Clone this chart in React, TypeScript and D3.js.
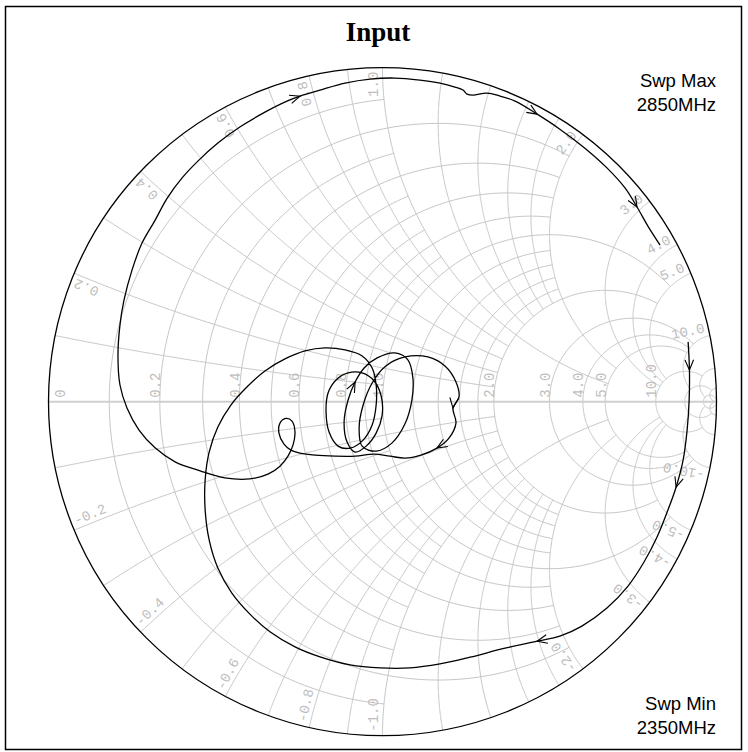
import React from 'react';
import * as d3 from 'd3';

const W = 748;
const H = 752;
const CX = 382.5;
const CY = 401.7;
const RAD = 334;

// grid: resistance circles and the reactance where each one stops
const rValues = [0.1, 0.2, 0.3, 0.4, 0.5, 0.6, 0.7, 0.8, 0.9, 1, 1.2, 1.4, 1.6, 1.8, 2, 3, 4, 5, 10, 20, 50];
const rStops = [1, 2, 1, 2, 1, 2, 1, 2, 1, 5, 2, 2, 2, 2, 5, 10, 10, 10, 20, 50, Infinity];
// reactance arcs and the resistance where each one stops
const xValues = [0.1, 0.2, 0.3, 0.4, 0.5, 0.6, 0.7, 0.8, 0.9, 1, 1.2, 1.4, 1.6, 1.8, 2, 3, 4, 5, 10, 20, 50];
const xStops = [1, 2, 1, 2, 1, 2, 1, 2, 1, 5, 2, 2, 2, 2, 5, 10, 10, 10, 20, 50, Infinity];

const axisValues = [0, 0.2, 0.4, 0.6, 0.8, 1, 2, 3, 4, 5, 10];
const axisLabels = ['0', '0.2', '0.4', '0.6', '0.8', '1.0', '2.0', '3.0', '4.0', '5.0', '10.0'];
const rimValues = [0.2, 0.4, 0.6, 0.8, 1, 2, 3, 4, 5, 10];
const rimLabels = ['0.2', '0.4', '0.6', '0.8', '1.0', '2.0', '3.0', '4.0', '5.0', '10.0'];

const traceRe = [
  0.915, 0.919, 0.918, 0.912, 0.900, 0.879, 0.852, 0.822, 0.783, 0.735, 0.672, 0.597, 0.531, 0.463,
  0.367, 0.262, 0.172, 0.082, -0.007, -0.097, -0.187, -0.262, -0.337, -0.397, -0.451, -0.493, -0.519,
  -0.531, -0.531, -0.519, -0.493, -0.454, -0.406, -0.352, -0.292, -0.232, -0.172, -0.112, -0.061,
  -0.031, -0.019, -0.019, -0.031, -0.058, -0.097,
  -0.133, -0.160, -0.169, -0.163, -0.139, -0.103, -0.061, -0.025, -0.004, -0.001, -0.019, -0.049, -0.082,
  -0.106, -0.115, -0.103, -0.082, -0.055, -0.016, 0.037, 0.076, 0.091, 0.088, 0.067, 0.028, -0.019, -0.061,
  -0.070, -0.058, -0.031, 0.010, 0.067, 0.136, 0.187, 0.220, 0.229, 0.211, 0.220, 0.199, 0.163, 0.115,
  0.067, 0.022, -0.025, -0.082, -0.142, -0.202, -0.247,
  -0.274, -0.295, -0.310, -0.307, -0.289, -0.271, -0.262, -0.268, -0.283, -0.307, -0.343, -0.397,
  -0.472, -0.546, -0.621, -0.681, -0.729, -0.765, -0.786, -0.792, -0.786, -0.774, -0.750, -0.720,
  -0.681, -0.645, -0.600, -0.552, -0.492, -0.426, -0.352, -0.286, -0.247, -0.187, -0.112, -0.037,
  0.037, 0.112, 0.172, 0.217, 0.241, 0.253, 0.271, 0.313, 0.352, 0.397, 0.463, 0.531, 0.606, 0.672,
  0.726, 0.762, 0.795, 0.831,
];
const traceIm = [
  0.179, 0.095, 0.002, -0.085, -0.175, -0.256, -0.331, -0.405, -0.480, -0.552, -0.618, -0.672, -0.702,
  -0.717, -0.738, -0.765, -0.785, -0.797, -0.797, -0.788, -0.764, -0.734, -0.689, -0.636, -0.573,
  -0.498, -0.414, -0.324, -0.234, -0.151, -0.076, -0.010, 0.044, 0.092, 0.128, 0.152, 0.161, 0.155,
  0.137, 0.101, 0.050, -0.010, -0.070, -0.115, -0.139,
  -0.133, -0.091, -0.031, 0.026, 0.065, 0.086, 0.086, 0.062, 0.017, -0.040, -0.094, -0.133, -0.151,
  -0.121, -0.061, 0.005, 0.059, 0.101, 0.131, 0.146, 0.125, 0.071, 0.005, -0.067, -0.124, -0.148, -0.133,
  -0.079, -0.010, 0.056, 0.107, 0.134, 0.134, 0.107, 0.059, 0.014, -0.019, -0.064, -0.109, -0.139, -0.160,
  -0.169, -0.163, -0.157, -0.163, -0.163, -0.160, -0.154,
  -0.145, -0.127, -0.094, -0.064, -0.050, -0.058, -0.091, -0.130, -0.163, -0.193, -0.217, -0.231,
  -0.228, -0.207, -0.180, -0.138, -0.085, -0.019, 0.050, 0.140, 0.230, 0.304, 0.394, 0.475, 0.543,
  0.609, 0.670, 0.721, 0.775, 0.823, 0.867, 0.900, 0.915, 0.933, 0.954, 0.966, 0.969, 0.963, 0.954,
  0.942, 0.933, 0.921, 0.918, 0.924, 0.915, 0.900, 0.861, 0.816, 0.759, 0.700, 0.640, 0.583, 0.525,
  0.469,
];
// direction markers, as indices into the sweep
const arrowIdx = [1, 5, 13, 61, 81, 84, 125, 139, 144];

const gridColor = '#c6c6c6';
const labelColor = '#bdbdbd';

function gamma(r: number, x: number): [number, number] {
  const d = (r + 1) * (r + 1) + x * x;
  return [(r * r + x * x - 1) / d, (2 * x) / d];
}

function rCircle(r: number, xMax: number): [number, number][] {
  const c = r / (r + 1);
  const rho = 1 / (r + 1);
  let t0 = 0;
  if (isFinite(xMax)) {
    const g = gamma(r, xMax);
    t0 = Math.atan2(g[1], g[0] - c);
  }
  return d3.range(0, 241).map((i) => {
    const t = t0 + ((2 * Math.PI - 2 * t0) * i) / 240;
    return [c + rho * Math.cos(t), rho * Math.sin(t)];
  });
}

function xArc(x: number, rMax: number): [number, number][] {
  const s = Math.sign(x);
  const ax = Math.abs(x);
  const rho = 1 / ax;
  const norm = (a: number) => (a < 0 ? a + 2 * Math.PI : a);
  const g0 = gamma(0, ax);
  const a0 = norm(Math.atan2(g0[1] - rho, g0[0] - 1));
  let a1 = 1.5 * Math.PI;
  if (isFinite(rMax)) {
    const g = gamma(rMax, ax);
    a1 = norm(Math.atan2(g[1] - rho, g[0] - 1));
  }
  return d3.range(0, 241).map((i) => {
    const t = a0 + ((a1 - a0) * i) / 240;
    return [1 + rho * Math.cos(t), s * (rho + rho * Math.sin(t))];
  });
}

export default function App() {
  const xs = d3.scaleLinear().domain([-1, 1]).range([CX - RAD, CX + RAD]);
  const ys = d3.scaleLinear().domain([-1, 1]).range([CY + RAD, CY - RAD]);
  const line = d3
    .line<[number, number]>()
    .x((d) => xs(d[0]))
    .y((d) => ys(d[1]));

  const gridPaths: string[] = [];
  rValues.forEach((r, i) => gridPaths.push(line(rCircle(r, rStops[i])) || ''));
  xValues.forEach((x, i) => {
    gridPaths.push(line(xArc(x, xStops[i])) || '');
    gridPaths.push(line(xArc(-x, xStops[i])) || '');
  });

  const trace: [number, number][] = traceRe.map((re, i) => [re, traceIm[i]]);
  const tracePath =
    d3
      .line<[number, number]>()
      .x((d) => xs(d[0]))
      .y((d) => ys(d[1]))
      .curve(d3.curveCatmullRom)(trace) || '';

  const arrows = arrowIdx.map((i) => {
    const p = trace[i];
    const a = trace[i - 1];
    const b = trace[i + 1];
    const tx = xs(p[0]);
    const ty = ys(p[1]);
    const ang = Math.atan2(ys(b[1]) - ys(a[1]), xs(b[0]) - xs(a[0]));
    const L = 11;
    const w1 = [tx - L * Math.cos(ang - 0.4), ty - L * Math.sin(ang - 0.4)];
    const w2 = [tx - L * Math.cos(ang + 0.4), ty - L * Math.sin(ang + 0.4)];
    return `M${w1[0]},${w1[1]}L${tx},${ty}L${w2[0]},${w2[1]}`;
  });

  const rimText: { x: number; y: number; rot: number; anchor: string; text: string }[] = [];
  rimValues.forEach((v, i) => {
    [v, -v].forEach((xv) => {
      const g = gamma(0, xv);
      const phi = (Math.atan2(g[1], g[0]) * 180) / Math.PI;
      const upper = xv > 0;
      const rot = upper ? -phi : -(phi + 180);
      const rr = (rot * Math.PI) / 180;
      const ux = -g[0];
      const uy = g[1];
      const upx = Math.sin(rr);
      const upy = -Math.cos(rr);
      rimText.push({
        x: xs(g[0]) + ux * 4 + upx * 4,
        y: ys(g[1]) + uy * 4 + upy * 4,
        rot,
        anchor: upper ? 'end' : 'start',
        text: upper ? rimLabels[i] : '-' + rimLabels[i],
      });
    });
  });

  return (
    <div style={{ position: 'absolute', left: 0, top: 0 }}>
      <svg width={W} height={H} style={{ display: 'block', background: '#fff' }}>
        <rect x={5.5} y={6.5} width={736} height={743} fill="none" stroke="#000" strokeWidth={1.5} />
        <g fill="none" stroke={gridColor} strokeWidth={1}>
          {gridPaths.map((d, i) => (
            <path key={i} d={d} />
          ))}
        </g>
        <line x1={xs(-1)} x2={xs(1)} y1={ys(0)} y2={ys(0)} stroke="#cfcfcf" strokeWidth={2} />
        <g fontFamily="'Liberation Mono', 'DejaVu Sans Mono', monospace" fontSize={14} fill={labelColor}>
          {axisValues.map((r, i) => {
            const gx = (r - 1) / (r + 1);
            const px = xs(gx) + (r === 0 ? 17 : 0.5);
            const py = ys(0) - 4;
            return (
              <text key={i} x={px} y={py} transform={`rotate(-90 ${px} ${py})`}>
                {axisLabels[i]}
              </text>
            );
          })}
          {rimText.map((t, i) => (
            <text key={i} x={t.x} y={t.y} textAnchor={t.anchor} transform={`rotate(${t.rot} ${t.x} ${t.y})`}>
              {t.text}
            </text>
          ))}
        </g>
        <circle cx={CX} cy={CY} r={RAD} fill="none" stroke="#000" strokeWidth={1.3} />
        <path d={tracePath} fill="none" stroke="#000" strokeWidth={1.3} />
        <g fill="none" stroke="#000" strokeWidth={1.1}>
          {arrows.map((d, i) => (
            <path key={i} d={d} />
          ))}
        </g>
        <text
          x={378}
          y={41}
          textAnchor="middle"
          fontFamily="'Liberation Serif', 'Times New Roman', serif"
          fontWeight="bold"
          fontSize={27}
        >
          Input
        </text>
        <g fontFamily="'Liberation Sans', Arial, sans-serif" fontSize={18.5} textAnchor="end">
          <text x={716} y={87}>Swp Max</text>
          <text x={716} y={111}>2850MHz</text>
          <text x={716} y={710}>Swp Min</text>
          <text x={716} y={734}>2350MHz</text>
        </g>
      </svg>
    </div>
  );
}
